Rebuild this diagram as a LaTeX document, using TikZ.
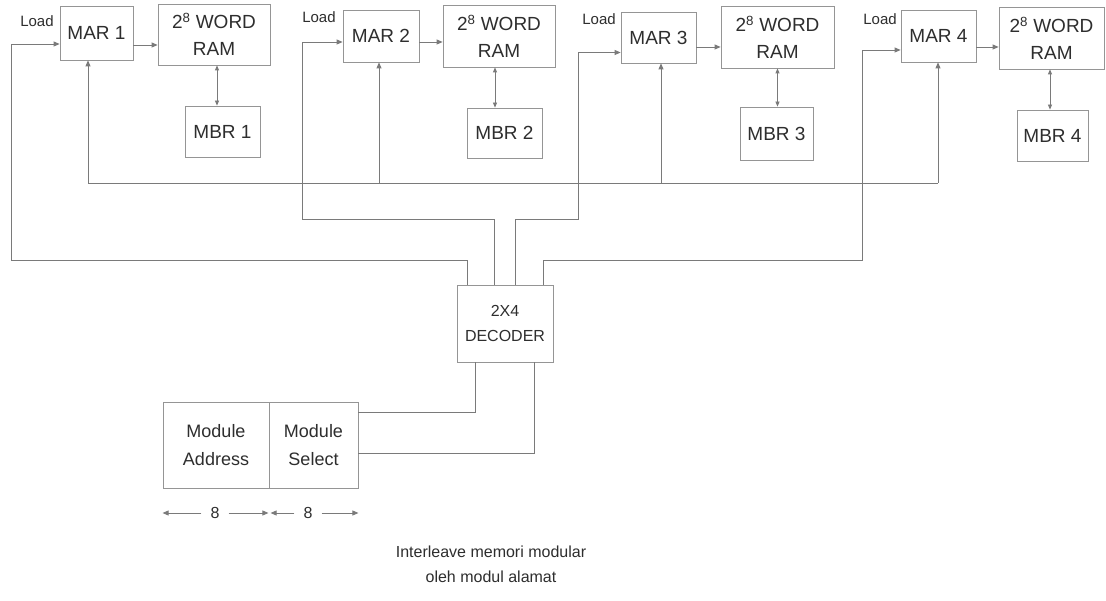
\documentclass[tikz,border=0pt]{standalone}
\usepackage{fontspec}
\setmainfont{Liberation Sans}
\usetikzlibrary{arrows.meta,calc}
\definecolor{txt}{HTML}{2E2E2E}
\definecolor{boxc}{HTML}{959595}
\definecolor{linec}{HTML}{7A7A7A}
\begin{document}
\begin{tikzpicture}[x=1pt,y=-1pt,
  box/.style={draw=boxc,line width=0.8pt,text=txt,font=\fontsize{19}{27}\selectfont,align=center,inner sep=0pt},
  ln/.style={draw=linec,line width=0.8pt},
  arr/.style={ln,-{Triangle[length=6pt,width=5pt]}},
  dbl/.style={ln,{Triangle[length=5pt,width=4pt]}-{Triangle[length=5pt,width=4pt]}},
  lbl/.style={text=txt,font=\fontsize{15}{18}\selectfont,inner sep=0pt},
  captext/.style={text=txt,font=\fontsize{16}{25}\selectfont,align=center,inner sep=0pt}]
\useasboundingbox[fill=white] (0,0) rectangle (1106,601);

% MAR boxes
\node[box,minimum width=73pt,minimum height=54pt] (mar1) at (96.5,33) {MAR 1};
\node[box,minimum width=76pt,minimum height=52pt] (mar2) at (381,36) {MAR 2};
\node[box,minimum width=75pt,minimum height=51pt] (mar3) at (658.5,37.5) {MAR 3};
\node[box,minimum width=75pt,minimum height=52pt] (mar4) at (938.5,36) {MAR 4};
% RAM boxes
\node[box,minimum width=112pt,minimum height=61pt] (ram1) at (214,34.5) {2\textsuperscript{8} WORD\\RAM};
\node[box,minimum width=112pt,minimum height=62pt] (ram2) at (499,36) {2\textsuperscript{8} WORD\\RAM};
\node[box,minimum width=113pt,minimum height=62pt] (ram3) at (777.5,37) {2\textsuperscript{8} WORD\\RAM};
\node[box,minimum width=105pt,minimum height=62pt] (ram4) at (1051.5,38) {2\textsuperscript{8} WORD\\RAM};
% MBR boxes
\node[box,minimum width=75pt,minimum height=51pt] (mbr1) at (222.5,131.5) {MBR 1};
\node[box,minimum width=75pt,minimum height=50pt] (mbr2) at (504.5,133) {MBR 2};
\node[box,minimum width=73pt,minimum height=53pt] (mbr3) at (776.5,133.5) {MBR 3};
\node[box,minimum width=71pt,minimum height=51pt] (mbr4) at (1052.5,135.5) {MBR 4};
% decoder and address register
\node[box,minimum width=96pt,minimum height=77pt,font=\fontsize{16}{25}\selectfont] (dec) at (505,323.5) {2X4\\DECODER};
\node[box,minimum width=106pt,minimum height=86pt,font=\fontsize{18}{28}\selectfont] (modaddr) at (216,445) {Module\\Address};
\node[box,minimum width=89pt,minimum height=86pt,font=\fontsize{18}{28}\selectfont] (modsel) at (313.5,445) {Module\\Select};

% Load labels
\node[lbl] (load1) at (37,21) {Load};
\node[lbl] (load2) at (319,17) {Load};
\node[lbl] (load3) at (599,19) {Load};
\node[lbl] (load4) at (880,19) {Load};

% MAR -> RAM
\draw[arr] ([yshift=-12pt]mar1.east) -- ([yshift=-12pt]mar1.east -| ram1.west);
\draw[arr] ([yshift=-6pt]mar2.east) -- ([yshift=-6pt]mar2.east -| ram2.west);
\draw[arr] ([yshift=-9.5pt]mar3.east) -- ([yshift=-9.5pt]mar3.east -| ram3.west);
\draw[arr] ([yshift=-11pt]mar4.east) -- ([yshift=-11pt]mar4.east -| ram4.west);

% RAM <-> MBR
\draw[dbl] ([xshift=3pt]ram1.south) -- ([xshift=3pt]ram1.south |- mbr1.north);
\draw[dbl] ([xshift=-4pt]ram2.south) -- ([xshift=-4pt]ram2.south |- mbr2.north);
\draw[dbl] (ram3.south) -- (ram3.south |- mbr3.north);
\draw[dbl] ([xshift=-1.5pt]ram4.south) -- ([xshift=-1.5pt]ram4.south |- mbr4.north);

% address bus to MARs
\coordinate (b1) at (88,183);
\coordinate (b2) at (379,183);
\coordinate (b3) at (661,183);
\coordinate (b4) at (938,183);
\draw[ln] (b1) -- (b4);
\draw[arr] (b1) -- (b1 |- mar1.south);
\draw[arr] (b2) -- (b2 |- mar2.south);
\draw[arr] (b3) -- (b3 |- mar3.south);
\draw[arr] (b4) -- (b4 |- mar4.south);

% decoder outputs to Load
\coordinate (j1) at (11,260);
\coordinate (j2) at (302,219);
\coordinate (j3) at (578,219);
\coordinate (j4) at (862,260);
\draw[arr] ([xshift=-38pt]dec.north) |- (j1) |- ([yshift=-11pt]mar1.west);
\draw[arr] ([xshift=-11pt]dec.north) |- (j2) |- ([yshift=-6pt]mar2.west);
\draw[arr] ([xshift=10pt]dec.north) |- (j3) |- ([yshift=-15pt]mar3.west);
\draw[arr] ([xshift=38pt]dec.north) |- (j4) |- ([yshift=-14pt]mar4.west);

% module select to decoder
\draw[ln] ([xshift=-30pt]dec.south) |- ([yshift=33pt]modsel.east);
\draw[ln] ([xshift=29pt]dec.south) |- ([yshift=-8pt]modsel.east);

% widths
\node[lbl,font=\fontsize{16}{18}\selectfont] (w1) at (215,513) {8};
\node[lbl,font=\fontsize{16}{18}\selectfont] (w2) at (308,513) {8};
\draw[arr] ([xshift=-9pt]w1.west) -- (w1 -| modaddr.west);
\draw[arr] ([xshift=9pt]w1.east) -- ([xshift=-1pt]w1 -| modaddr.east);
\draw[arr] ([xshift=-9pt]w2.west) -- ([xshift=2pt]w2 -| modsel.west);
\draw[arr] ([xshift=9pt]w2.east) -- (w2 -| modsel.east);

% caption
\node[captext] (caption) at (491,564) {Interleave memori modular\\oleh modul alamat};
\end{tikzpicture}
\end{document}
